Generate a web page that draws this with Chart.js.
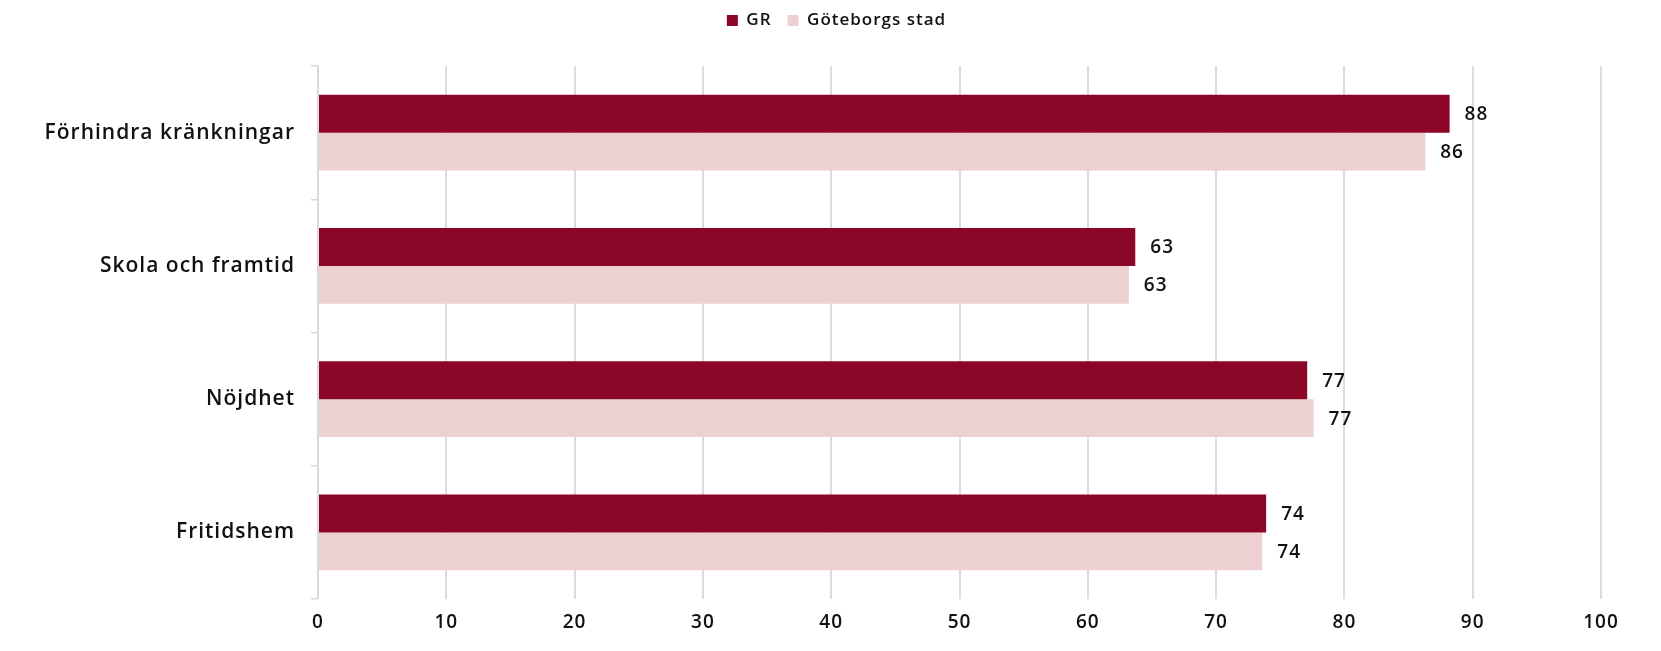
<!DOCTYPE html>
<html>
<head>
<meta charset="utf-8">
<script src="https://cdn.jsdelivr.net/npm/chart.js@4"></script>
<style>
  html, body { margin: 0; padding: 0; background: #fff; }
  #wrap { width: 1661px; height: 651px; }
</style>
</head>
<body>
<div id="wrap"><canvas id="chart"></canvas></div>
<script>
const categories = ["Förhindra kränkningar", "Skola och framtid", "Nöjdhet", "Fritidshem"];
const grValues = [88.2, 63.7, 77.1, 73.9];
const gbgValues = [86.3, 63.2, 77.6, 73.6];
const grLabels = [88, 63, 77, 74];
const gbgLabels = [86, 63, 77, 74];
const xTicks = [0, 10, 20, 30, 40, 50, 60, 70, 80, 90, 100];

const FONT = '"Open Sans", sans-serif';

// letter spacing (canvas resize resets it, so set it every pass),
// room under the legend and legend centred on the whole page
const setup = {
  id: "setup",
  beforeInit(chart) {
    const legend = chart.legend;
    const fit = legend.fit;
    legend.fit = function () {
      fit.call(this);
      this.height += 23;
    };
    const draw = legend.draw;
    legend.draw = function () {
      const ctx = this.ctx;
      ctx.save();
      ctx.translate(36, -4);
      draw.call(this);
      ctx.restore();
    };
  },
  beforeUpdate(chart) { chart.ctx.letterSpacing = "1px"; },
  beforeLayout(chart) { chart.ctx.letterSpacing = "1px"; },
  beforeDraw(chart) { chart.ctx.letterSpacing = "1px"; }
};

// draws the value just right of each bar
const barLabels = {
  id: "barLabels",
  afterDatasetsDraw(chart) {
    const ctx = chart.ctx;
    const texts = [grLabels, gbgLabels];
    ctx.save();
    ctx.font = "600 19px " + FONT;
    ctx.fillStyle = "#111";
    ctx.textBaseline = "middle";
    ctx.textAlign = "left";
    chart.data.datasets.forEach((ds, i) => {
      chart.getDatasetMeta(i).data.forEach((bar, j) => {
        ctx.fillText(texts[i][j], bar.x + 15, bar.y + 1);
      });
    });
    ctx.restore();
  }
};

new Chart(document.getElementById("chart"), {
  type: "bar",
  data: {
    labels: categories,
    datasets: [
      { label: "GR", data: grValues, backgroundColor: "#8c0727" },
      { label: "Göteborgs stad", data: gbgValues, backgroundColor: "#edd0d1" }
    ]
  },
  options: {
    indexAxis: "y",
    responsive: true,
    maintainAspectRatio: false,
    animation: false,
    categoryPercentage: 0.57,
    barPercentage: 1.0,
    layout: { padding: { left: 0, right: 60, top: 0, bottom: 0 } },
    plugins: {
      legend: {
        position: "top",
        labels: {
          boxWidth: 11,
          boxHeight: 11,
          padding: 16,
          color: "#111",
          font: { family: FONT, size: 17, weight: "600" }
        }
      },
      tooltip: { enabled: false }
    },
    scales: {
      x: {
        min: 0,
        max: 100,
        afterFit: s => { s.height = 52; },
        afterBuildTicks: s => { s.ticks = xTicks.map(v => ({ value: v })); },
        grid: { color: "#dcdcdc", lineWidth: 2, drawTicks: false },
        border: { display: false },
        ticks: { color: "#111", padding: 12, font: { family: FONT, size: 19, weight: "600" } }
      },
      y: {
        afterFit: s => { s.width = 318; },
        grid: {
          offset: true,
          drawOnChartArea: false,
          drawTicks: true,
          tickLength: 7,
          color: "#d9d9d9",
          lineWidth: 1.5
        },
        border: { color: "#d9d9d9", width: 1.5 },
        ticks: { color: "#111", padding: 16, font: { family: FONT, size: 21, weight: "600" } }
      }
    }
  },
  plugins: [setup, barLabels]
});
</script>
</body>
</html>
